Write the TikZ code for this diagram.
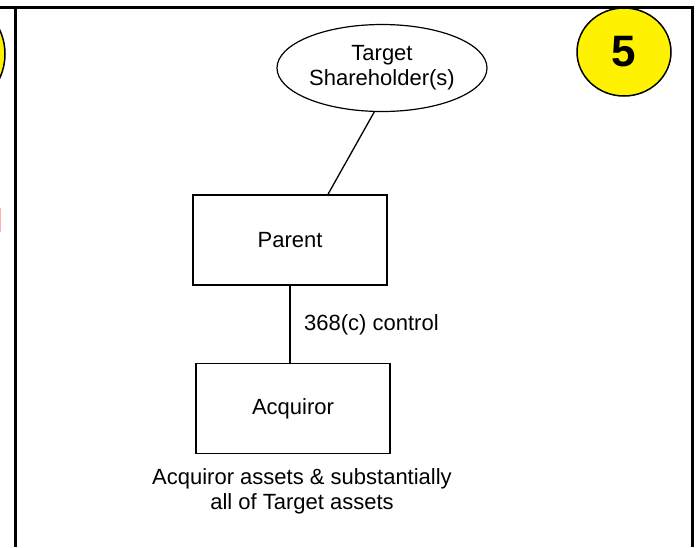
\documentclass[tikz,border=0pt]{standalone}
\usepackage{fontspec}
\setmainfont{Liberation Sans}
\usetikzlibrary{shapes.geometric}
\begin{document}
\begin{tikzpicture}[x=1pt,y=-1pt,
  lbl/.style={font=\fontsize{22}{25}\selectfont, align=center, inner sep=0pt},
  box/.style={draw, line width=1.5pt, minimum width=194pt, minimum height=90pt, inner sep=0pt, font=\fontsize{22}{25}\selectfont},
  frame/.style={line width=3pt},
  conn/.style={line width=1.3pt}]
\useasboundingbox (0,0) rectangle (698,547);
% partial items at the left edge
\draw[line width=1.5pt, fill=yellow] (-53,54) ellipse (58pt and 58pt);
\fill[red!30] (-2,208) rectangle (1,232);
% frame
\draw[frame] (0,7) -- (694,7);
\draw[frame] (15.5,7) -- (15.5,547);
\draw[frame] (692.5,7) -- (692.5,547);
% nodes
\node[draw, ellipse, line width=1.2pt, minimum width=210pt, minimum height=87pt, inner sep=0pt, lbl] (ts) at (382,68) {Target\\Shareholder(s)};
\node[box] (parent) at (290,240) {Parent};
\node[box] (acq) at (293,408.5) {Acquiror};
\node[draw, ellipse, line width=1.5pt, fill=yellow, minimum width=94pt, minimum height=88pt, inner sep=0pt, font=\fontsize{44}{44}\selectfont\bfseries] (five) at (624,52) {5};
\node[lbl, anchor=west] (ctl) at (304,325) {368(c) control};
\node[lbl] (assets) at (302,491) {Acquiror assets \& substantially\\all of Target assets};
% connectors
\draw[conn] (ts.-100) -- ([xshift=38pt]parent.north);
\draw[conn] (parent.south) -- (parent.south |- acq.north);
\end{tikzpicture}
\end{document}
